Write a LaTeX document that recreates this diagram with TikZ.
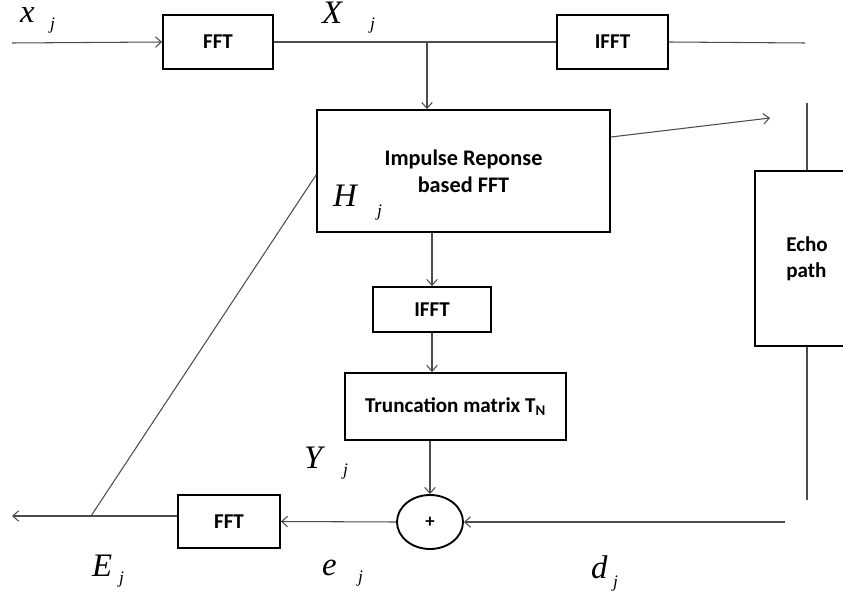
\documentclass[tikz,border=0pt]{standalone}
\usepackage{fontspec}
\setmainfont{Liberation Serif}
\newfontfamily\boxfont{Carlito}
\usetikzlibrary{arrows.meta,shapes.geometric}

\tikzset{
  block/.style={draw=black, line width=1.6pt, fill=white, inner sep=0pt,
    font=\boxfont\bfseries\fontsize{18}{22}\selectfont, align=center},
  sumnode/.style={block, ellipse, minimum width=1.98cm, minimum height=1.62cm},
  wire/.style={draw=black!70, line width=0.9pt},
  flow/.style={wire, -{Straight Barb[length=5pt,width=9pt]}},
  sig/.style={anchor=base west, inner sep=0pt, text height=0.66em, text depth=0.2em,
    font=\itshape\fontsize{28}{30}\selectfont},
  sub/.style={anchor=base west, inner sep=0pt, font=\itshape\fontsize{15}{17}\selectfont}
}

\begin{document}
\begin{tikzpicture}[x=0.03cm, y=-0.03cm]
    \useasboundingbox (0,0) rectangle (843,596);

    % blocks
    \node[block, minimum width=3.3cm, minimum height=1.62cm] (fftin) at (218,42) {FFT};
    \node[block, minimum width=3.33cm, minimum height=1.62cm] (ifftout) at (612.5,42) {IFFT};
    \node[block, minimum width=8.79cm, minimum height=3.66cm,
      font=\boxfont\bfseries\fontsize{19}{23}\selectfont] (imp) at (463.5,171) {Impulse Reponse\\based FFT};
    \node[block, minimum width=3.54cm, minimum height=1.35cm] (ifftmid) at (432,309.5) {IFFT};
    \node[block, minimum width=6.63cm, minimum height=2.01cm] (trunc) at (455.5,406.5) {Truncation matrix T\textsubscript{N}};
    \node[sumnode, font=\boxfont\bfseries\fontsize{16}{18}\selectfont] (sum) at (430,522) {+};
    \node[block, minimum width=3.06cm, minimum height=1.59cm] (fftback) at (229,521.5) {FFT};
    \node[block, minimum width=3.12cm, minimum height=5.25cm, align=left] (echo) at (807,258.5) {Echo\\path};

    % free ends
    \coordinate (xin) at (12,43);
    \coordinate (xout) at (805,43);
    \coordinate (xb) at (427,43);
    \coordinate (hout) at (770,118);
    \coordinate (etop) at (807,103);
    \coordinate (ebot) at (807,500);
    \coordinate (din) at (785,522);
    \coordinate (eout) at (12,516);
    \coordinate (ej) at (91,516);

    % connectors
    \draw[flow] (xin) -- (fftin.west);
    \draw[wire] (fftin.east) -- (ifftout.west);
    \draw[wire] (ifftout.east) -- (xout);
    \draw[flow] (xb) -- (xb |- imp.north);
    \draw[flow] (imp.east |- 0,137) -- (hout);
    \draw[wire] (etop) -- (echo.north);
    \draw[wire] (echo.south) -- (ebot);
    \draw[flow] (ifftmid.north |- imp.south) -- (ifftmid.north);
    \draw[flow] (ifftmid.south) -- (ifftmid.south |- trunc.north);
    \draw[flow] (sum.north |- trunc.south) -- (sum.north);
    \draw[flow] (din) -- (sum.east);
    \draw[flow] (sum.west) -- (fftback.east);
    \draw[flow] (fftback.west |- eout) -- (eout);
    \draw[wire] (ej) -- (imp.west |- 0,175);

    % signal labels
    \node[sig] (lx) at (20,23) {x};
    \node[sub] (ljx) at (50,30) {j};
    \node[sig] (lX) at (322,24) {X};
    \node[sub] (ljX) at (370,30) {j};
    \node[sig] (lH) at (333,207) {H};
    \node[sub] (ljH) at (377,217) {j};
    \node[sig] (lY) at (304,468) {Y};
    \node[sub] (ljY) at (343,475) {j};
    \node[sig] (le) at (322,575) {e};
    \node[sub] (lje) at (358,582) {j};
    \node[sig] (lE) at (92,576) {E};
    \node[sub] (ljE) at (119,583) {j};
    \node[sig] (ld) at (591,578) {d};
    \node[sub] (ljd) at (613,587) {j};
\end{tikzpicture}
\end{document}
